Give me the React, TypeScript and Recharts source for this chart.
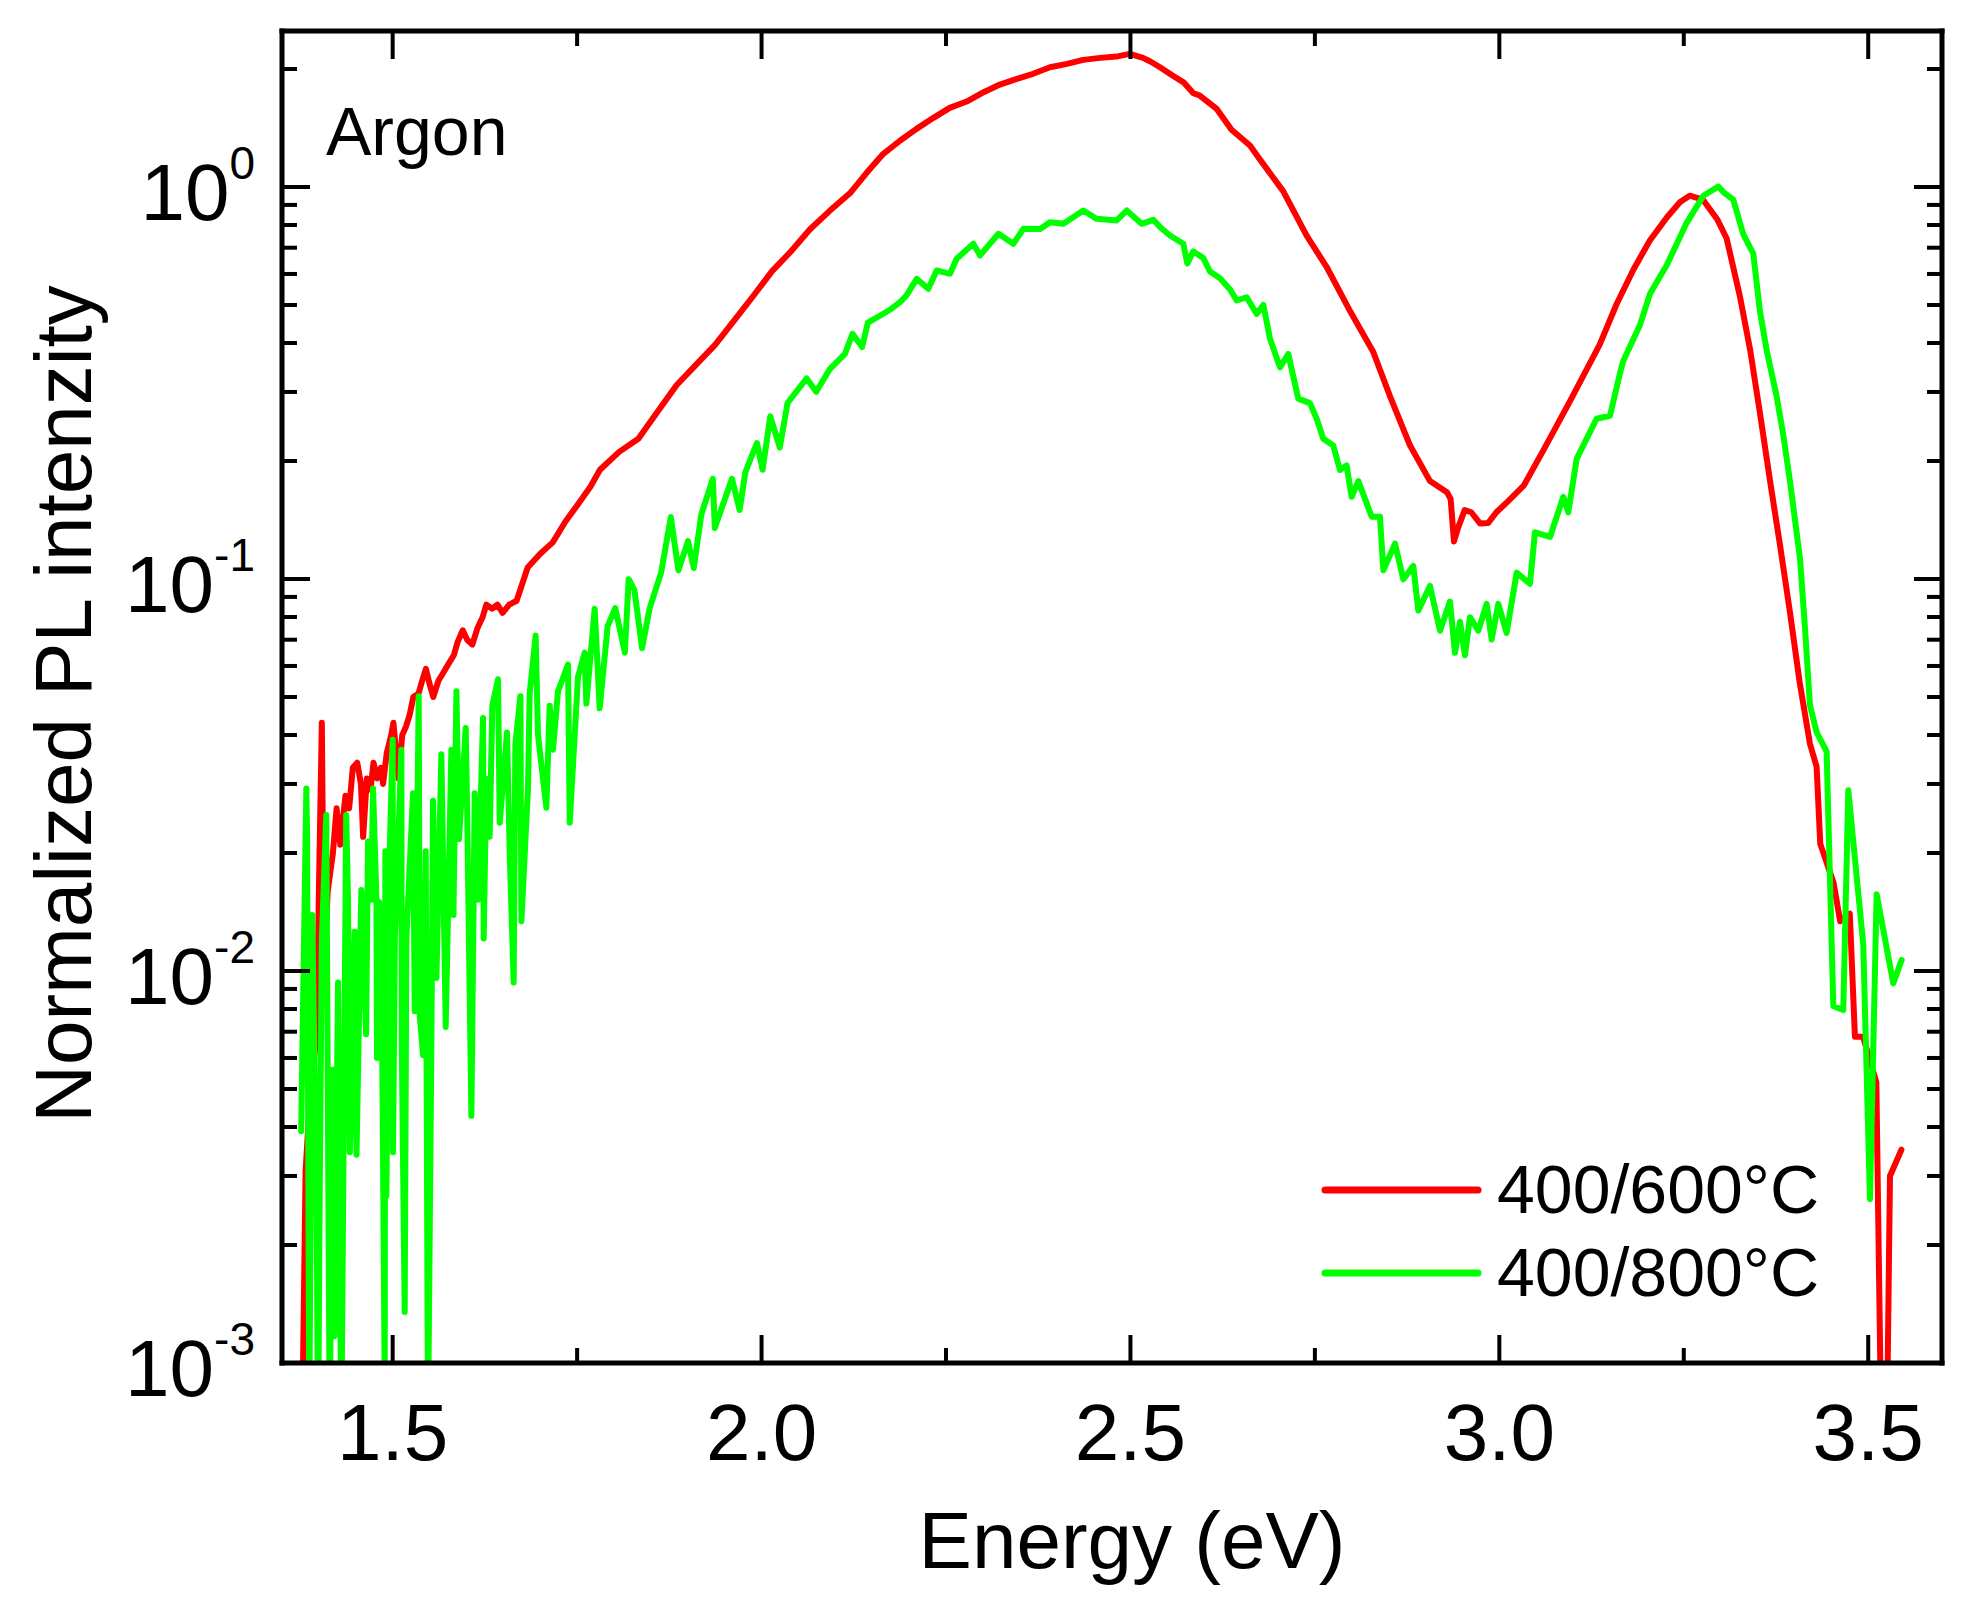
import React from 'react';
import { LineChart, Line, XAxis, YAxis, Legend, Customized } from 'recharts';

// values (energy in eV, normalized PL intensity)
const redEnergy = [
  1.377, 1.382, 1.389, 1.397, 1.400, 1.404, 1.407, 1.412, 1.419, 1.424,
  1.429, 1.436, 1.441, 1.446, 1.452, 1.457, 1.460, 1.465, 1.470, 1.474,
  1.479, 1.484, 1.487, 1.492, 1.498, 1.501, 1.508, 1.513, 1.518, 1.523,
  1.528, 1.535, 1.540, 1.545, 1.550, 1.555, 1.562, 1.567, 1.574, 1.583,
  1.588, 1.595, 1.601, 1.608, 1.615, 1.622, 1.627, 1.635, 1.642, 1.649,
  1.658, 1.668, 1.683, 1.700, 1.717, 1.734, 1.751, 1.768, 1.781, 1.807,
  1.833, 1.859, 1.885, 1.911, 1.937, 1.963, 1.989, 2.014, 2.040, 2.066,
  2.092, 2.120, 2.143, 2.165, 2.188, 2.210, 2.233, 2.255, 2.278, 2.301,
  2.323, 2.346, 2.368, 2.391, 2.414, 2.436, 2.459, 2.481, 2.499, 2.517,
  2.527, 2.540, 2.556, 2.572, 2.585, 2.594, 2.617, 2.637, 2.662, 2.676,
  2.707, 2.739, 2.766, 2.798, 2.829, 2.852, 2.879, 2.906, 2.929, 2.934,
  2.9385, 2.944, 2.953, 2.962, 2.974, 2.985, 2.996, 3.012, 3.033, 3.060,
  3.096, 3.136, 3.159, 3.182, 3.204, 3.227, 3.245, 3.258, 3.276, 3.295,
  3.308, 3.326, 3.340, 3.353, 3.367, 3.380, 3.394, 3.407, 3.421, 3.430,
  3.435, 3.453, 3.462, 3.475, 3.482, 3.493, 3.511, 3.518, 3.525, 3.5295,
  3.545,
];
const redIntensity = [
  0.0006, 0.0031, 0.0051, 0.0068, 0.0159, 0.043, 0.0101, 0.016, 0.020, 0.026,
  0.021, 0.028, 0.026, 0.033, 0.034, 0.030, 0.022, 0.031, 0.029, 0.034,
  0.031, 0.033, 0.030, 0.036, 0.040, 0.043, 0.031, 0.040, 0.042, 0.045,
  0.050, 0.051, 0.055, 0.059, 0.054, 0.050, 0.055, 0.057, 0.060, 0.064,
  0.069, 0.074, 0.070, 0.068, 0.075, 0.080, 0.086, 0.084, 0.086, 0.082,
  0.086, 0.088, 0.107, 0.116, 0.124, 0.140, 0.155, 0.172, 0.190, 0.211,
  0.228, 0.267, 0.3125, 0.3516, 0.3957, 0.4567, 0.528, 0.609, 0.6856, 0.7816,
  0.868, 0.965, 1.09, 1.215, 1.314, 1.407, 1.501, 1.592, 1.652, 1.745,
  1.825, 1.887, 1.944, 2.02, 2.061, 2.11, 2.135, 2.151, 2.185, 2.135,
  2.09, 2.02, 1.93, 1.849, 1.736, 1.711, 1.582, 1.40, 1.276, 1.172,
  0.976, 0.75, 0.625, 0.481, 0.38, 0.292, 0.219, 0.1777, 0.1664, 0.160,
  0.1247, 0.135, 0.1499, 0.148, 0.1385, 0.139, 0.148, 0.158, 0.173, 0.2135,
  0.2848, 0.396, 0.503, 0.617, 0.73, 0.836, 0.916, 0.95, 0.928, 0.829,
  0.74, 0.527, 0.3835, 0.267, 0.1775, 0.1235, 0.0821, 0.0546, 0.038, 0.0332,
  0.0211, 0.0168, 0.0134, 0.014, 0.0068, 0.0068, 0.0052, 0.0006, 0.0006, 0.003,
  0.0035,
];

const greenEnergy = [
  1.376, 1.3785, 1.383, 1.384, 1.387, 1.391, 1.3966, 1.399, 1.401, 1.404,
  1.410, 1.4146, 1.419, 1.421, 1.426, 1.428, 1.4305, 1.437, 1.4395, 1.442,
  1.4485, 1.451, 1.4575, 1.464, 1.4666, 1.471, 1.4734, 1.478, 1.4788, 1.4815,
  1.4847, 1.4892, 1.4901, 1.4915, 1.496, 1.500, 1.5005, 1.503, 1.5118, 1.5123,
  1.5163, 1.5186, 1.5276, 1.5299, 1.5322, 1.5353, 1.5367, 1.5412, 1.5448, 1.5479,
  1.5525, 1.5547, 1.5593, 1.566, 1.5719, 1.5751, 1.5796, 1.5824, 1.5864, 1.590,
  1.599, 1.6008, 1.6067, 1.6112, 1.6157, 1.6225, 1.6234, 1.627, 1.6315, 1.6351,
  1.6428, 1.6451, 1.655, 1.6586, 1.664, 1.6663, 1.6731, 1.6745, 1.6834, 1.6857,
  1.6938, 1.697, 1.7015, 1.7083, 1.7128, 1.7173, 1.7241, 1.7377, 1.740, 1.7512,
  1.7603, 1.7625, 1.7738, 1.7806, 1.7914, 1.8017, 1.8147, 1.8199, 1.8277, 1.838,
  1.8484, 1.864, 1.877, 1.8873, 1.9003, 1.9081, 1.9184, 1.934, 1.9366, 1.9599,
  1.9703, 1.9781, 1.9937, 2.0014, 2.0118, 2.0248, 2.0352, 2.0611, 2.0741, 2.0922,
  2.113, 2.1233, 2.1363, 2.1441, 2.165, 2.1752, 2.1877, 2.196, 2.2103, 2.226,
  2.2374, 2.2554, 2.2645, 2.287, 2.2961, 2.321, 2.3413, 2.3548, 2.3775, 2.391,
  2.409, 2.4362, 2.4542, 2.4813, 2.4949, 2.5152, 2.531, 2.54, 2.5536, 2.5717,
  2.5771, 2.5852, 2.5988, 2.6078, 2.6214, 2.635, 2.644, 2.6575, 2.6711, 2.6801,
  2.6891, 2.7027, 2.7139, 2.7275, 2.7433, 2.7524, 2.7614, 2.7749, 2.784, 2.793,
  2.7998, 2.8089, 2.8202, 2.827, 2.8382, 2.8428, 2.8586, 2.8699, 2.8834, 2.8902,
  2.906, 2.9196, 2.9331, 2.9399, 2.9467, 2.9534, 2.9602, 2.9715, 2.9828, 2.9896,
  2.9986, 3.0099, 3.0235, 3.0415, 3.0483, 3.0687, 3.0867, 3.0935, 3.1048, 3.1319,
  3.15, 3.1635, 3.1681, 3.1906, 3.2042, 3.2268, 3.2539, 3.2765, 3.2968, 3.3036,
  3.3171, 3.3307, 3.3442, 3.3533, 3.3623, 3.3759, 3.3849, 3.394, 3.4075, 3.4143,
  3.421, 3.4301, 3.4436, 3.4527, 3.4662, 3.473, 3.4933, 3.5024, 3.5114, 3.534,
  3.5453,
];
const greenIntensity = [
  0.0039, 0.0081, 0.0292, 0.022, 0.0007, 0.0139, 0.00275, 0.0007, 0.0025, 0.012,
  0.025, 0.0007, 0.0056, 0.00117, 0.00935, 0.0021, 0.0007, 0.025, 0.0152, 0.00345,
  0.0126, 0.0034, 0.0161, 0.0069, 0.0214, 0.0152, 0.0292, 0.0152, 0.006, 0.015,
  0.0121, 0.0009, 0.0202, 0.00267, 0.0202, 0.0389, 0.00345, 0.0121, 0.0367, 0.0066,
  0.00135, 0.0121, 0.0284, 0.0079, 0.0152, 0.0502, 0.0077, 0.0061, 0.0202, 0.0007,
  0.0066, 0.0272, 0.0096, 0.0357, 0.0072, 0.0143, 0.0367, 0.0139, 0.0517, 0.0217,
  0.0417, 0.0268, 0.00427, 0.0284, 0.0152, 0.0442, 0.0121, 0.0309, 0.022, 0.0475,
  0.0555, 0.0239, 0.0406, 0.0202, 0.00935, 0.0378, 0.0502, 0.0134, 0.0292, 0.051,
  0.0717, 0.04, 0.0337, 0.0261, 0.0475, 0.0367, 0.0517, 0.0605, 0.0239, 0.0563,
  0.0649, 0.0481, 0.0839, 0.0468, 0.0758, 0.0843, 0.0649, 0.0999, 0.0936, 0.0666,
  0.0843, 0.104, 0.144, 0.1053, 0.1249, 0.1067, 0.1462, 0.1802, 0.135, 0.1802,
  0.150, 0.1874, 0.2223, 0.19, 0.26, 0.2165, 0.2812, 0.3249, 0.3004, 0.3424,
  0.3753, 0.4223, 0.3904, 0.4509, 0.475, 0.4878, 0.5086, 0.5277, 0.583, 0.55,
  0.6125, 0.6005, 0.656, 0.7165, 0.6691, 0.7597, 0.7165, 0.782, 0.7816, 0.8133,
  0.8054, 0.871, 0.8294, 0.8214, 0.871, 0.8054, 0.8247, 0.791, 0.7522, 0.7165,
  0.638, 0.685, 0.6586, 0.6087, 0.5853, 0.548, 0.5134, 0.5231, 0.4746, 0.5001,
  0.4109, 0.3466, 0.3749, 0.2884, 0.281, 0.2564, 0.2279, 0.2191, 0.1897, 0.1948,
  0.1621, 0.1777, 0.1559, 0.1441, 0.1441, 0.1052, 0.1231, 0.0998, 0.108, 0.0831,
  0.096, 0.0738, 0.0876, 0.0648, 0.0778, 0.0639, 0.0799, 0.0738, 0.0864, 0.0701,
  0.0864, 0.0729, 0.1038, 0.0972, 0.1315, 0.128, 0.1621, 0.1479, 0.2025, 0.2564,
  0.2608, 0.3346, 0.3603, 0.4444, 0.534, 0.6313, 0.8101, 0.9495, 1.0026, 0.971,
  0.928, 0.757, 0.6758, 0.481, 0.3835, 0.2921, 0.2329, 0.1775, 0.1128, 0.075,
  0.0477, 0.0406, 0.0363, 0.00813, 0.00795, 0.0289, 0.01168, 0.00262, 0.0157, 0.0093,
  0.01067,
];

const seriesNames = ['400/600°C', '400/800°C'];
const seriesColors = ['#ff0000', '#00ff00'];

const xDomain = [1.35, 3.6];
const xTicks = [1.5, 1.75, 2.0, 2.25, 2.5, 2.75, 3.0, 3.25, 3.5];
const xMajor = [1.5, 2.0, 2.5, 3.0, 3.5];

const yDomain = [0.001, 2.5];
const yTicks = [
  0.001, 0.002, 0.003, 0.004, 0.005, 0.006, 0.007, 0.008, 0.009,
  0.01, 0.02, 0.03, 0.04, 0.05, 0.06, 0.07, 0.08, 0.09,
  0.1, 0.2, 0.3, 0.4, 0.5, 0.6, 0.7, 0.8, 0.9,
  1, 2,
];
const yMajor = [0.001, 0.01, 0.1, 1];
const yExponents = ['-3', '-2', '-1', '0'];

const FONT = '"Liberation Sans", Arial, sans-serif';
const MAJOR_LEN = 28;
const MINOR_LEN = 15;

const chartData = [
  ...redEnergy.map((e, i) => ({ e, red: redIntensity[i] })),
  ...greenEnergy.map((e, i) => ({ e, green: greenIntensity[i] })),
].sort((a, b) => a.e - b.e);

const BottomTick = ({ x, y, payload }: any) => {
  const major = xMajor.includes(payload.value);
  return (
    <g>
      <line x1={x} y1={y} x2={x} y2={y - (major ? MAJOR_LEN : MINOR_LEN)} stroke="#000" strokeWidth={4} />
      {major && (
        <text x={x} y={y + 97} textAnchor="middle" fontSize={80} fill="#000" fontFamily={FONT}>
          {payload.value.toFixed(1)}
        </text>
      )}
    </g>
  );
};

const TopTick = ({ x, y, payload }: any) => {
  const major = xMajor.includes(payload.value);
  return <line x1={x} y1={y} x2={x} y2={y + (major ? MAJOR_LEN : MINOR_LEN)} stroke="#000" strokeWidth={4} />;
};

const LeftTick = ({ x, y, payload }: any) => {
  const idx = yMajor.indexOf(payload.value);
  const major = idx >= 0;
  return (
    <g>
      <line x1={x} y1={y} x2={x + (major ? MAJOR_LEN : MINOR_LEN)} y2={y} stroke="#000" strokeWidth={4} />
      {major && (
        <text x={x - 27} y={y + 33} textAnchor="end" fontSize={80} fill="#000" fontFamily={FONT}>
          10
          <tspan fontSize={46} dy={-41}>{yExponents[idx]}</tspan>
        </text>
      )}
    </g>
  );
};

const RightTick = ({ x, y, payload }: any) => {
  const major = yMajor.includes(payload.value);
  return <line x1={x} y1={y} x2={x - (major ? MAJOR_LEN : MINOR_LEN)} y2={y} stroke="#000" strokeWidth={4} />;
};

const renderLegend = (props: any) => {
  const items = props.payload || [];
  return (
    <svg width={560} height={190}>
      {items.map((item: any, i: number) => {
        const rowY = 60 + i * 83;
        return (
          <g key={item.value}>
            <line x1={15} y1={rowY} x2={168} y2={rowY} stroke={item.color} strokeWidth={7} strokeLinecap="round" />
            <text x={187} y={rowY + 23} fontSize={68} fill="#000" fontFamily={FONT}>
              {item.value}
            </text>
          </g>
        );
      })}
    </svg>
  );
};

const Annotations = () => (
  <g fontFamily={FONT} fill="#000">
    <text x={326} y={155} fontSize={68}>Argon</text>
    <text x={1132} y={1568} fontSize={80} textAnchor="middle">Energy (eV)</text>
    <text transform="translate(91,704) rotate(-90)" fontSize={80} textAnchor="middle">
      Normalized PL intenzity
    </text>
  </g>
);

const axisLine = { stroke: '#000', strokeWidth: 5, strokeLinecap: 'square' as const };

export default function App() {
  return (
    <div style={{ position: 'absolute', left: 0, top: 0, width: 1971, height: 1623, background: '#fff', fontFamily: FONT }}>
      <LineChart width={1971} height={1623} data={chartData} margin={{ top: 0, right: 0, bottom: 0, left: 0 }}>
        <XAxis
          xAxisId="b"
          dataKey="e"
          type="number"
          domain={xDomain}
          allowDataOverflow
          ticks={xTicks}
          interval={0}
          height={260}
          axisLine={axisLine}
          tickLine={false}
          tickSize={0}
          tickMargin={0}
          tick={BottomTick}
        />
        <XAxis
          xAxisId="t"
          orientation="top"
          dataKey="e"
          type="number"
          domain={xDomain}
          allowDataOverflow
          ticks={xTicks}
          interval={0}
          height={31}
          axisLine={axisLine}
          tickLine={false}
          tickSize={0}
          tickMargin={0}
          tick={TopTick}
        />
        <YAxis
          yAxisId="l"
          type="number"
          scale="log"
          domain={yDomain}
          allowDataOverflow
          ticks={yTicks}
          interval={0}
          width={282}
          axisLine={axisLine}
          tickLine={false}
          tickSize={0}
          tickMargin={0}
          tick={LeftTick}
        />
        <YAxis
          yAxisId="r"
          orientation="right"
          type="number"
          scale="log"
          domain={yDomain}
          allowDataOverflow
          ticks={yTicks}
          interval={0}
          width={29}
          axisLine={axisLine}
          tickLine={false}
          tickSize={0}
          tickMargin={0}
          tick={RightTick}
        />
        <Line
          xAxisId="b"
          yAxisId="l"
          type="linear"
          dataKey="red"
          name={seriesNames[0]}
          stroke={seriesColors[0]}
          strokeWidth={6}
          strokeLinejoin="round"
          strokeLinecap="round"
          dot={false}
          activeDot={false}
          connectNulls
          isAnimationActive={false}
        />
        <Line
          xAxisId="b"
          yAxisId="l"
          type="linear"
          dataKey="green"
          name={seriesNames[1]}
          stroke={seriesColors[1]}
          strokeWidth={6}
          strokeLinejoin="round"
          strokeLinecap="round"
          dot={false}
          activeDot={false}
          connectNulls
          isAnimationActive={false}
        />
        <Legend
          layout="horizontal"
          verticalAlign="middle"
          align="center"
          content={renderLegend}
          wrapperStyle={{ position: 'absolute', left: 1310, top: 1130, width: 560, height: 190 }}
        />
        <Customized component={Annotations} />
      </LineChart>
    </div>
  );
}
